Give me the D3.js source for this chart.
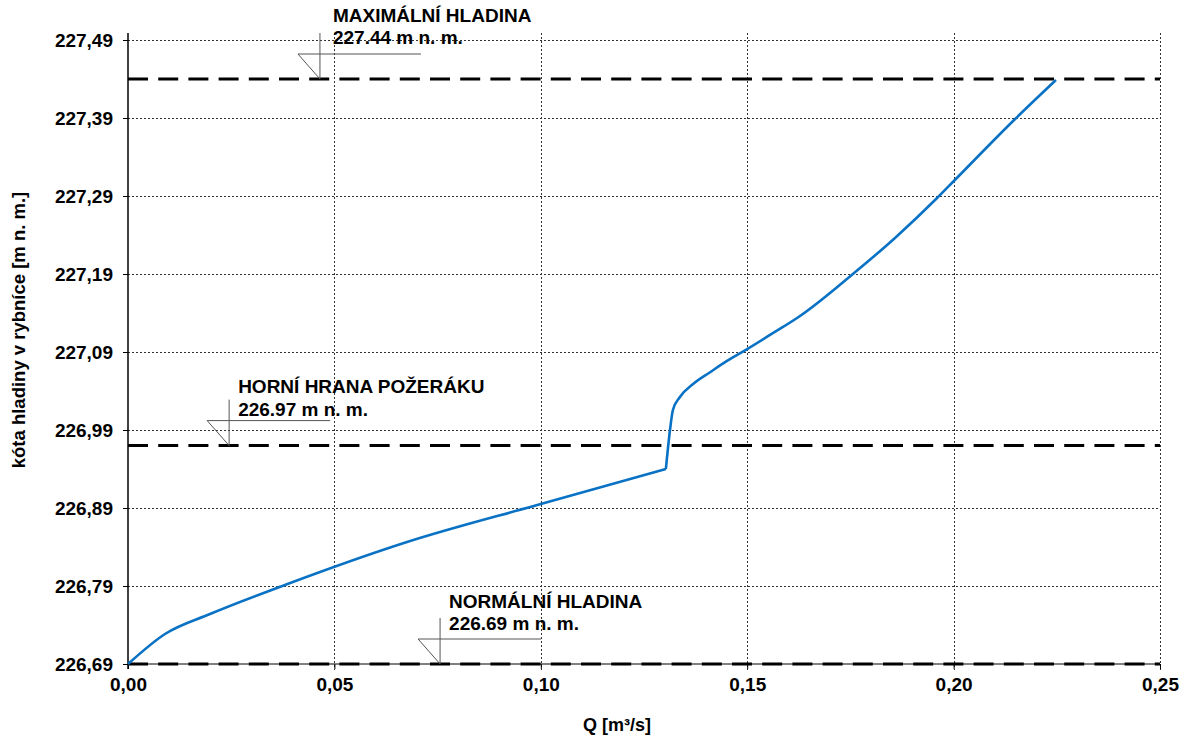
<!DOCTYPE html>
<html>
<head>
<meta charset="utf-8">
<script src="https://cdn.jsdelivr.net/npm/d3@7"></script>
<style>
  html, body { margin: 0; padding: 0; background: #fff; }
  svg { display: block; }
  text { font-family: "Liberation Sans", Arial, sans-serif; font-weight: bold; fill: #000; }
</style>
</head>
<body>
<svg id="chart" width="1192" height="739"></svg>
<script>
// ---- data ----
const discharge = [0, 0.00896, 0.01986, 0.0380, 0.0676, 0.1000, 0.1303,
  0.1313, 0.1320, 0.1337, 0.1369, 0.1410, 0.1451, 0.1500, 0.1563, 0.1628, 0.1756, 0.1858, 0.1960, 0.2003,
  0.2149, 0.2248];
const level = [226.690, 226.7285, 226.7541, 226.7913, 226.8464, 226.8951, 226.940,
  226.990, 227.0156, 227.0323, 227.0490, 227.0640, 227.0785, 227.0938, 227.1144, 227.1362, 227.190, 227.2362, 227.2874, 227.3105,
  227.3887, 227.4387];
const xTicks = [0, 0.05, 0.10, 0.15, 0.20, 0.25];
const yTicks = [226.69, 226.79, 226.89, 226.99, 227.09, 227.19, 227.29, 227.39, 227.49];
const levelNames = ["MAXIMÁLNÍ HLADINA", "HORNÍ HRANA POŽERÁKU", "NORMÁLNÍ HLADINA"];
const levelValues = [227.44, 226.97, 226.69];
const levelLabels = ["227.44 m n. m.", "226.97 m n. m.", "226.69 m n. m."];
const levelMarkerQ = [0.0465, 0.0245, 0.0756];

(function () {
  // ---- layout ----
  const svg = d3.select("#chart");
  const pLeft = 128, pRight = 1160, pTop = 33;
  const x = d3.scaleLinear().domain([0, 0.25]).range([128, 1160]);
  const y = d3.scaleLinear().domain([226.69, 227.49]).range([664, 40]);
  const pBottom = y(226.69);
  const fmt = d => d.toFixed(2).replace(".", ",");
  const FONT = '"Liberation Sans", Arial, sans-serif';
  // per-label text offsets (dx, title dy, value dy)
  const labelOffsets = [[13, -57, -35], [9, -53, -30], [9, -56, -34]];

  // gridlines
  const grid = svg.append("g").attr("stroke", "#333").attr("stroke-width", 1).attr("stroke-dasharray", "2,2");
  grid.selectAll("line.h").data(yTicks.slice(1)).join("line")
    .attr("x1", pLeft).attr("x2", pRight)
    .attr("y1", d => Math.round(y(d)) + 0.5).attr("y2", d => Math.round(y(d)) + 0.5);
  grid.selectAll("line.v").data(xTicks.slice(1)).join("line")
    .attr("y1", pTop).attr("y2", pBottom + 6)
    .attr("x1", d => Math.round(x(d)) + 0.5).attr("x2", d => Math.round(x(d)) + 0.5);

  // y axis
  const yAxis = svg.append("g").attr("transform", `translate(${pLeft},0)`)
    .call(d3.axisLeft(y).tickValues(yTicks).tickFormat(fmt).tickSize(5).tickPadding(10));
  yAxis.select(".domain").remove();
  yAxis.selectAll("text").attr("font-size", 19).style("font-family", FONT).style("font-weight", "bold").attr("dy", "0.36em");
  yAxis.selectAll("line").attr("stroke", "#000");
  svg.append("line").attr("x1", pLeft).attr("x2", pLeft).attr("y1", pTop).attr("y2", pBottom + 5)
    .attr("stroke", "#000").attr("stroke-width", 1.5);

  // x axis
  const xAxis = svg.append("g").attr("transform", `translate(0,${pBottom})`)
    .call(d3.axisBottom(x).tickValues(xTicks).tickFormat(fmt).tickSize(5).tickPadding(9));
  xAxis.select(".domain").remove();
  xAxis.selectAll("text").attr("font-size", 19).style("font-family", FONT).style("font-weight", "bold");
  xAxis.selectAll("line").attr("stroke", "#000");
  svg.append("line").attr("x1", pLeft).attr("x2", pRight).attr("y1", pBottom).attr("y2", pBottom)
    .attr("stroke", "#000").attr("stroke-width", 1);

  // dashed level lines
  svg.append("g").selectAll("line").data(levelValues).join("line")
    .attr("x1", pLeft).attr("x2", pRight)
    .attr("y1", d => y(d)).attr("y2", d => y(d))
    .attr("stroke", "#000").attr("stroke-width", 3).attr("stroke-dasharray", "20,10.2");

  // level markers and labels
  levelValues.forEach((v, i) => {
    const vx = x(levelMarkerQ[i]), vy = y(v);
    const o = labelOffsets[i];
    const g = svg.append("g");
    g.append("path")
      .attr("d", `M${vx - 22},${vy - 25} L${vx + 101},${vy - 25} M${vx - 22},${vy - 25} L${vx},${vy} M${vx},${vy} L${vx},${vy - 46}`)
      .attr("fill", "none").attr("stroke", "#555").attr("stroke-width", 1);
    g.append("text").attr("x", vx + o[0]).attr("y", vy + o[1]).attr("font-size", 19).text(levelNames[i]);
    g.append("text").attr("x", vx + o[0]).attr("y", vy + o[2]).attr("font-size", 19).text(levelLabels[i]);
  });

  // rating curve: smooth pieces joined at the sharp corner (start of overflow over the riser)
  const pts = discharge.map((q, i) => [q, level[i]]);
  let breakIdx = 1, maxJump = -Infinity;
  for (let i = 1; i < pts.length - 1; i++) {
    const s1 = (pts[i][1] - pts[i - 1][1]) / (pts[i][0] - pts[i - 1][0]);
    const s2 = (pts[i + 1][1] - pts[i][1]) / (pts[i + 1][0] - pts[i][0]);
    if (s2 - s1 > maxJump) { maxJump = s2 - s1; breakIdx = i; }
  }
  const line = d3.line().x(d => x(d[0])).y(d => y(d[1])).curve(d3.curveMonotoneX);
  const lower = pts.slice(0, breakIdx + 1), upper = pts.slice(breakIdx);
  svg.append("path")
    .attr("d", line(lower) + line(upper))
    .attr("fill", "none").attr("stroke", "#0A72C4").attr("stroke-width", 2.6)
    .attr("stroke-linejoin", "round");

  // axis titles
  svg.append("text").attr("x", 617).attr("y", 731).attr("text-anchor", "middle").attr("font-size", 18)
    .text("Q [m³/s]");
  svg.append("text").attr("transform", "translate(25,330) rotate(-90)").attr("text-anchor", "middle")
    .attr("font-size", 18.5).text("kóta hladiny v rybníce [m n. m.]");
})();
</script>
</body>
</html>
